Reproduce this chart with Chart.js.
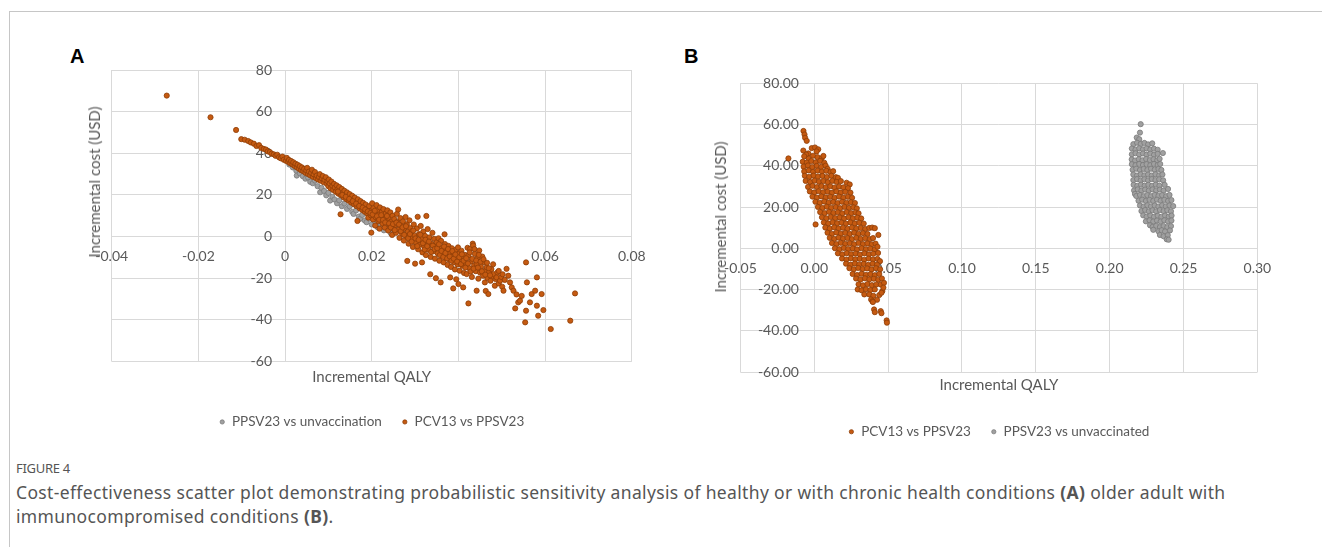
<!DOCTYPE html>
<html>
<head>
<meta charset="utf-8">
<title>Figure 4 - cost-effectiveness planes</title>
<script src="https://cdn.jsdelivr.net/npm/chart.js@4.4.1/dist/chart.umd.min.js"></script>
<style>
  html, body { margin: 0; padding: 0; background: #fff; }
  body { position: relative; width: 1322px; height: 547px; overflow: hidden; font-family: Lato, sans-serif; }
  #frame { position: absolute; left: 9px; top: 11px; width: 1320px; height: 540px; border-top: 1px solid #c6c6c6; border-left: 1px solid #c6c6c6; }
  canvas { position: absolute; }
  #chartA { left: 55px; top: 40px; }
  #chartB { left: 680px; top: 60px; }
  .panel { position: absolute; font: bold 20px "Liberation Sans", Arial, sans-serif; line-height: 20px; color: #000; }
  .ytitle { position: absolute; font-size: 15px; color: #595959; white-space: nowrap;
            transform: translate(-50%, -50%) rotate(-90deg); }
  #figno { position: absolute; left: 16px; top: 459px; font: 13px "Noto Sans", sans-serif; color: #555; letter-spacing: -0.3px; }
  #caption { position: absolute; left: 16px; top: 480px; font: 17.5px/24px "Noto Sans", sans-serif; color: #555; letter-spacing: 0.35px; white-space: nowrap; }
</style>
</head>
<body>
<div id="frame"></div>
<div class="panel" style="left:70px;top:46px">A</div>
<div class="panel" style="left:684px;top:46px">B</div>
<canvas id="chartA" width="630" height="410"></canvas>
<canvas id="chartB" width="610" height="400"></canvas>
<div class="ytitle" style="left:94px;top:182px">Incremental cost (USD)</div>
<div class="ytitle" style="left:720px;top:217px">Incremental cost (USD)</div>
<div id="figno">FIGURE 4</div>
<div id="caption">Cost-effectiveness scatter plot demonstrating probabilistic sensitivity analysis of healthy or with chronic health conditions <b>(A)</b> older adult with<br>immunocompromised conditions <b>(B)</b>.</div>

<script>
// ---------- Panel A: healthy / chronic conditions ----------
const aTickX = [-0.04, -0.02, 0, 0.02, 0.04, 0.06, 0.08];
const aTickXLabels = ["-0.04", "-0.02", "0", "0.02", "0.04", "0.06", "0.08"];
const aTickY = [-60, -40, -20, 0, 20, 40, 60, 80];
const aTickYLabels = ["-60", "-40", "-20", "0", "20", "40", "60", "80"];

// PPSV23 vs unvaccination (mostly hidden under the orange cloud)
const aPpsvUnvacc = [
  [0.0010,34.6],[0.0018,33.2],[0.0026,31.6],[0.0027,29.3],[0.0034,30.4],[0.0041,29.0],[0.0047,27.8],[0.0053,28.4],
  [0.0058,26.3],[0.0064,25.6],[0.0069,26.9],[0.0075,24.2],[0.0081,21.3],[0.0084,23.4],[0.0090,21.9],[0.0095,19.8],
  [0.0100,21.0],[0.0104,17.3],[0.0109,19.1],[0.0114,17.8],[0.0120,16.0],[0.0125,17.4],[0.0131,14.6],[0.0137,15.9],
  [0.0143,13.3],[0.0149,14.5],[0.0155,11.9],[0.0158,10.9],[0.0164,12.6],[0.0170,9.6],[0.0173,8.5],[0.0178,10.4],
  [0.0184,7.7],[0.0188,6.9],[0.0194,8.6],[0.0200,5.8],[0.0207,7.2],[0.0214,4.4],[0.0221,5.6],[0.0228,3.0],
  [0.0236,4.1],[0.0244,1.6],[0.0252,3.6],[0.0261,4.0],[0.0270,2.8],[0.0280,1.5],[0.0290,0.3],[0.0300,-1.0],
  [0.0312,-2.0],[0.0325,-3.0],[0.0338,-4.2],[0.0352,-5.3],[0.0366,-6.5],[0.0380,-7.6]
];

// PCV13 vs PPSV23
const aPcvPpsv = [
  [-0.0273,67.7],[-0.0172,57.3],[-0.0113,51.2],[-0.0101,46.8],[-0.0093,46.5],[-0.0085,45.9],[-0.0079,45.2],[-0.0072,44.6],
  [-0.0066,43.5],[-0.0060,43.9],[-0.0055,42.6],[-0.0049,42.1],[-0.0044,41.8],[-0.0040,40.9],[-0.0035,40.6],[-0.0031,39.8],
  [-0.0026,39.5],[-0.0022,38.8],[-0.0018,39.3],[-0.0014,38.1],[-0.0010,37.6],[-0.0006,38.4],[-0.0003,36.9],
  [0.0002,36.4],[0.0004,37.8],[0.0007,35.9],[0.0009,36.8],[0.0012,35.2],[0.0014,36.3],[0.0017,34.6],[0.0019,35.7],
  [0.0022,33.9],[0.0024,35.0],[0.0027,33.3],[0.0029,34.5],[0.0032,32.6],[0.0034,33.8],[0.0037,31.9],[0.0039,33.2],
  [0.0042,31.4],[0.0044,32.5],[0.0047,30.6],[0.0049,31.8],[0.0051,33.0],
  [0.0053,30.0],[0.0055,31.2],[0.0058,29.4],[0.0060,30.6],[0.0062,32.1],[0.0064,28.7],[0.0066,29.9],[0.0069,31.0],
  [0.0071,28.1],[0.0073,29.3],[0.0076,27.4],[0.0078,28.6],[0.0080,30.0],[0.0082,26.8],[0.0085,27.9],[0.0087,29.1],
  [0.0089,26.1],[0.0091,27.3],[0.0094,28.5],[0.0096,25.4],[0.0098,26.6],[0.0100,24.2],[0.0101,27.4],
  [0.0103,25.5],[0.0105,23.2],[0.0107,26.4],[0.0109,24.3],[0.0111,22.4],[0.0113,25.3],[0.0115,23.5],[0.0117,21.5],
  [0.0119,24.6],[0.0121,22.7],[0.0123,20.6],[0.0125,23.8],[0.0127,21.8],[0.0128,10.7],[0.0129,19.9],[0.0131,22.9],
  [0.0133,20.9],[0.0135,18.9],[0.0137,22.0],[0.0139,20.1],[0.0141,18.0],[0.0143,21.2],[0.0145,19.2],[0.0147,17.2],[0.0149,20.4],
  [0.0151,18.3],[0.0153,16.3],[0.0155,19.6],[0.0157,17.5],[0.0159,15.5],[0.0161,18.7],[0.0163,16.6],[0.0165,14.6],
  [0.0167,7.5],[0.0168,17.9],[0.0170,15.7],[0.0172,13.6],[0.0174,17.0],[0.0176,14.9],[0.0178,12.8],[0.0180,16.2],
  [0.0182,14.0],[0.0184,11.9],[0.0186,15.4],[0.0188,13.2],[0.0190,11.0],[0.0192,9.1],[0.0194,14.6],[0.0196,12.3],
  [0.0198,10.2],[0.0199,1.9],
  [0.0201,16.0],[0.0203,8.2],[0.0204,13.6],[0.0206,11.4],[0.0208,5.3],[0.0209,9.3],[0.0211,15.1],[0.0213,12.6],
  [0.0215,7.4],[0.0216,10.5],[0.0218,3.8],[0.0219,14.0],[0.0221,8.6],[0.0223,11.8],[0.0225,6.2],[0.0227,13.2],
  [0.0228,9.7],[0.0230,4.3],[0.0232,11.0],[0.0234,7.5],[0.0236,12.6],[0.0238,2.9],[0.0239,9.0],[0.0241,5.4],
  [0.0243,11.6],[0.0245,7.2],[0.0247,0.8],[0.0248,10.0],[0.0250,3.6],
  [0.0252,8.4],[0.0254,5.6],[0.0256,1.8],[0.0258,10.9],[0.0259,7.0],[0.0261,13.0],[0.0262,3.4],[0.0264,-0.6],
  [0.0266,8.9],[0.0268,5.2],[0.0270,1.4],[0.0272,7.3],[0.0274,-1.9],[0.0276,3.8],[0.0278,9.4],[0.0280,0.2],
  [0.0281,5.9],[0.0282,-11.7],[0.0283,2.3],[0.0285,-3.4],[0.0287,7.8],[0.0289,4.1],[0.0291,-0.9],[0.0293,2.6],
  [0.0295,-5.0],[0.0297,5.8],[0.0299,0.4],[0.0300,-13.0],
  [0.0302,-2.8],[0.0304,3.9],[0.0306,9.5],[0.0307,-6.1],[0.0309,1.2],[0.0311,-3.9],[0.0313,5.1],[0.0315,-1.2],
  [0.0316,-12.4],[0.0317,-7.6],[0.0319,2.4],[0.0321,-4.8],[0.0323,0.3],[0.0325,-8.9],[0.0326,9.9],[0.0327,-2.2],
  [0.0329,3.6],[0.0331,-6.3],[0.0333,-0.4],[0.0335,-18.1],[0.0336,-9.8],[0.0338,-3.5],[0.0340,1.8],[0.0342,-7.1],
  [0.0344,-1.1],[0.0346,-10.6],[0.0348,-20.0],[0.0349,-4.4],
  [0.0350,-2.7],[0.0352,-8.0],[0.0354,-0.8],[0.0356,-11.6],[0.0358,-5.2],[0.0359,-22.0],[0.0360,-2.1],[0.0362,-9.1],
  [0.0364,-6.4],[0.0366,-12.4],[0.0368,1.1],[0.0369,-3.6],[0.0371,-10.2],[0.0373,-7.3],[0.0375,-13.6],[0.0377,-4.5],
  [0.0379,-11.0],[0.0381,-8.0],[0.0381,-19.6],[0.0383,-14.6],[0.0385,-5.6],[0.0387,-9.2],[0.0388,-7.5],[0.0388,-24.9],
  [0.0390,-12.3],[0.0392,-15.8],[0.0394,-6.4],[0.0395,-20.5],[0.0396,-10.1],[0.0398,-13.4],[0.0400,-22.8],
  [0.0401,-8.2],[0.0403,-16.4],[0.0405,-11.5],[0.0407,-6.8],[0.0409,-14.0],[0.0411,-10.0],[0.0411,-24.4],[0.0413,-17.5],
  [0.0415,-8.8],[0.0417,-12.7],[0.0419,-18.0],[0.0421,-5.4],[0.0423,-9.1],[0.0423,-32.1],[0.0425,-15.2],[0.0427,-5.9],
  [0.0429,-11.9],[0.0431,-19.4],[0.0433,-3.4],[0.0434,-4.3],[0.0436,-13.9],[0.0438,-8.3],[0.0440,-16.6],[0.0442,-13.1],
  [0.0442,-26.0],[0.0444,-10.4],[0.0446,-20.2],[0.0448,-6.7],[0.0450,-17.3],
  [0.0452,-14.5],[0.0455,-9.6],[0.0457,-18.8],[0.0459,-12.3],[0.0461,-22.0],[0.0463,-16.1],[0.0463,-26.1],[0.0465,-14.8],
  [0.0467,-19.9],[0.0469,-27.6],[0.0471,-17.0],[0.0474,-21.2],[0.0476,-15.6],[0.0478,-19.1],[0.0480,-13.3],[0.0481,-18.0],
  [0.0484,-23.6],[0.0486,-20.4],[0.0488,-19.6],[0.0490,-17.2],[0.0493,-22.5],[0.0493,-16.5],[0.0496,-21.2],[0.0499,-19.4],
  [0.0501,-24.1],[0.0502,-18.1],[0.0504,-26.0],[0.0507,-20.8],[0.0511,-15.5],[0.0515,-18.8],[0.0519,-22.0],[0.0523,-24.4],
  [0.0527,-26.0],
  [0.0531,-34.5],[0.0534,-27.8],[0.0538,-31.6],[0.0542,-30.8],[0.0546,-28.5],[0.0554,-41.2],[0.0556,-35.6],[0.0558,-22.0],
  [0.0556,-12.4],[0.0565,-31.6],[0.0569,-27.6],[0.0577,-26.0],[0.0581,-19.6],[0.0581,-33.2],[0.0584,-38.0],[0.0592,-27.6],
  [0.0596,-35.3],[0.0613,-44.4],[0.0658,-40.4],[0.0669,-27.3],
  // middle of the band, where the cloud is densest
  [0.0122,21.6],[0.0132,20.0],[0.0140,19.1],[0.0148,18.1],[0.0156,17.0],[0.0164,15.8],[0.0171,14.7],[0.0179,13.9],
  [0.0185,13.0],[0.0191,12.1],[0.0197,11.3],
  [0.0202,10.6],[0.0207,12.4],[0.0212,9.8],[0.0217,8.1],[0.0222,10.3],[0.0226,8.0],[0.0231,6.8],[0.0235,9.9],
  [0.0240,6.3],[0.0244,4.4],[0.0249,6.0],
  [0.0253,3.1],[0.0257,6.7],[0.0263,5.8],[0.0267,2.6],[0.0271,4.4],[0.0275,0.8],[0.0279,5.0],[0.0284,-0.8],
  [0.0288,1.2],[0.0292,-2.4],[0.0296,2.9],
  [0.0301,-0.9],[0.0305,-4.6],[0.0308,-1.6],[0.0312,0.9],[0.0318,-3.2],[0.0322,-6.2],[0.0324,-1.5],[0.0328,-4.6],
  [0.0332,-2.4],[0.0337,-7.4],[0.0341,-4.4],[0.0345,-6.0],
  [0.0351,-5.6],[0.0355,-3.7],[0.0357,-8.9],[0.0361,-6.9],[0.0365,-9.8],[0.0367,-4.8],[0.0370,-7.9],[0.0374,-10.5],
  [0.0376,-6.0],[0.0380,-9.6],[0.0384,-11.6],[0.0386,-7.0],
  [0.0389,-10.6],[0.0393,-8.6],[0.0397,-12.0],[0.0399,-5.2],[0.0402,-9.9],[0.0406,-13.2],[0.0408,-8.5],[0.0412,-11.6],
  [0.0416,-14.9],[0.0418,-10.4],[0.0422,-12.9],[0.0426,-7.6],
  [0.0428,-16.8],[0.0432,-10.7],[0.0435,-15.4],[0.0437,-6.0],[0.0441,-11.5],[0.0445,-14.9],[0.0447,-8.8],[0.0451,-12.1],
  [0.0454,-16.7],[0.0458,-10.9],[0.0462,-18.3],[0.0466,-12.6],[0.0470,-15.2],[0.0473,-18.6]
];

// ---------- Panel B: immunocompromised ----------
const bTickX = [-0.05, 0, 0.05, 0.1, 0.15, 0.2, 0.25, 0.3];
const bTickXLabels = ["-0.05", "0.00", "0.05", "0.10", "0.15", "0.20", "0.25", "0.30"];
const bTickY = [-60, -40, -20, 0, 20, 40, 60, 80];
const bTickYLabels = ["-60.00", "-40.00", "-20.00", "0.00", "20.00", "40.00", "60.00", "80.00"];

// PCV13 vs PPSV23
const bPcvPpsv = [
  [-0.0073,56.9],[-0.0066,55.2],[-0.0062,53.6],[-0.0051,52.1],
  [-0.0074,47.4],[-0.0040,46.0],[-0.0017,48.6],[0.0005,48.9],[0.0027,48.0],[0.0016,47.0],[-0.0055,45.5],
  [-0.0175,43.6],[-0.0068,44.6],[-0.0038,43.5],[-0.0008,44.9],[0.0022,44.2],[0.0050,43.7],[0.0062,44.8],
  [-0.0078,42.0],[-0.0050,41.6],[-0.0020,42.3],[0.0010,41.7],[0.0040,42.4],[0.0068,41.5],
  [-0.0072,39.6],[-0.0043,40.2],[-0.0013,39.4],[0.0017,40.0],[0.0047,39.5],[0.0077,40.1],[0.0090,38.6],
  [-0.0068,37.3],[-0.0038,37.8],[-0.0008,37.1],[0.0022,37.7],[0.0052,37.2],[0.0082,37.6],[0.0110,37.0],[0.0128,37.4],
  [-0.0064,35.2],[-0.0034,34.7],[-0.0004,35.3],[0.0026,34.8],[0.0056,35.1],[0.0086,34.6],[0.0116,35.2],[0.0146,34.5],[0.0160,34.2],
  [-0.0058,32.7],[-0.0028,32.2],[0.0002,32.8],[0.0032,32.3],[0.0062,32.6],[0.0092,32.1],[0.0122,32.7],[0.0152,32.2],
  [0.0180,32.6],[0.0219,31.8],[0.0240,31.0],
  [-0.0042,29.8],[-0.0012,30.3],[0.0018,29.7],[0.0048,30.2],[0.0078,29.6],[0.0108,30.1],[0.0138,29.5],[0.0168,30.0],
  [0.0198,29.6],[0.0228,29.2],
  [-0.0030,27.6],[0.0000,27.1],[0.0030,27.7],[0.0060,27.2],[0.0090,27.5],[0.0120,27.0],[0.0150,27.6],[0.0180,27.1],
  [0.0210,27.4],[0.0245,27.0],
  [-0.0012,25.1],[0.0018,24.6],[0.0048,25.2],[0.0078,24.7],[0.0108,25.0],[0.0138,24.5],[0.0168,25.1],[0.0198,24.6],
  [0.0228,25.0],[0.0256,24.5],
  [0.0008,22.6],[0.0038,22.1],[0.0068,22.7],[0.0098,22.2],[0.0128,22.5],[0.0158,22.0],[0.0188,22.6],[0.0218,22.1],
  [0.0248,22.4],[0.0275,22.0],
  [0.0025,20.1],[0.0055,19.6],[0.0085,20.2],[0.0115,19.7],[0.0145,20.0],[0.0175,19.5],[0.0205,20.1],[0.0235,19.6],
  [0.0265,19.9],[0.0288,19.4],
  [0.0040,17.6],[0.0070,17.1],[0.0100,17.7],[0.0130,17.2],[0.0160,17.5],[0.0190,17.0],[0.0220,17.6],[0.0250,17.1],
  [0.0280,17.4],[0.0300,17.0],
  [0.0052,15.1],[0.0082,14.6],[0.0112,15.2],[0.0142,14.7],[0.0172,15.0],[0.0202,14.5],[0.0232,15.1],[0.0262,14.6],
  [0.0292,14.9],[0.0318,14.5],
  [0.0009,11.6],[0.0065,12.6],[0.0095,12.1],[0.0125,12.7],[0.0155,12.2],[0.0185,12.5],[0.0215,12.0],[0.0245,12.6],
  [0.0275,12.1],[0.0305,12.4],[0.0335,12.0],
  [0.0075,10.1],[0.0105,9.6],[0.0135,10.2],[0.0165,9.7],[0.0195,10.0],[0.0225,9.5],[0.0255,10.1],[0.0285,9.6],
  [0.0315,9.9],[0.0345,9.4],[0.0372,9.9],[0.0392,10.1],[0.0410,9.8],
  [0.0090,7.6],[0.0120,7.1],[0.0150,7.7],[0.0180,7.2],[0.0210,7.5],[0.0240,7.0],[0.0270,7.6],[0.0300,7.1],
  [0.0330,7.4],[0.0360,7.0],[0.0434,6.5],
  [0.0105,5.1],[0.0135,4.6],[0.0165,5.2],[0.0195,4.7],[0.0225,5.0],[0.0255,4.5],[0.0285,5.1],[0.0315,4.6],
  [0.0345,4.9],[0.0375,4.5],[0.0398,5.0],
  [0.0120,2.6],[0.0150,2.1],[0.0180,2.7],[0.0210,2.2],[0.0240,2.5],[0.0270,2.0],[0.0300,2.6],[0.0330,2.1],
  [0.0360,2.4],[0.0390,2.0],[0.0415,2.3],
  [0.0140,0.1],[0.0170,-0.4],[0.0200,0.2],[0.0230,-0.3],[0.0260,0.0],[0.0290,-0.5],[0.0320,0.1],[0.0350,-0.4],
  [0.0380,-0.1],[0.0410,-0.5],[0.0428,0.8],
  [0.0160,-2.4],[0.0190,-2.9],[0.0220,-2.3],[0.0250,-2.8],[0.0280,-2.5],[0.0310,-3.0],[0.0340,-2.4],[0.0370,-2.9],
  [0.0400,-2.6],[0.0432,-2.2],
  [0.0188,-4.9],[0.0218,-5.4],[0.0248,-4.8],[0.0278,-5.3],[0.0308,-5.0],[0.0338,-5.5],[0.0368,-4.9],[0.0398,-5.4],
  [0.0428,-5.1],[0.0445,-6.2],
  [0.0215,-7.4],[0.0245,-7.9],[0.0275,-7.3],[0.0305,-7.8],[0.0335,-7.5],[0.0365,-8.0],[0.0395,-7.4],[0.0425,-7.9],
  [0.0238,-9.6],[0.0268,-10.1],[0.0298,-9.5],[0.0328,-10.0],[0.0358,-9.7],[0.0388,-10.2],[0.0418,-9.6],[0.0446,-10.1],
  [0.0260,-12.4],[0.0290,-12.9],[0.0320,-12.3],[0.0350,-12.8],[0.0380,-12.5],[0.0410,-13.0],[0.0440,-12.4],
  [0.0283,-14.6],[0.0313,-15.1],[0.0343,-14.5],[0.0373,-15.0],[0.0403,-14.7],[0.0433,-15.2],[0.0458,-14.6],
  [0.0300,-17.4],[0.0330,-17.9],[0.0360,-17.3],[0.0390,-17.8],[0.0420,-17.5],[0.0450,-17.5],[0.0472,-16.7],
  [0.0294,-19.9],[0.0320,-20.3],[0.0350,-19.8],[0.0380,-20.2],[0.0410,-19.9],[0.0461,-20.7],[0.0468,-19.0],
  [0.0339,-22.3],[0.0372,-22.3],[0.0400,-23.0],[0.0440,-22.6],[0.0455,-21.5],
  [0.0385,-24.8],[0.0394,-25.6],[0.0425,-24.9],
  [0.0397,-26.0],[0.0405,-29.6],[0.0410,-30.9],[0.0450,-30.4],[0.0455,-31.4],
  [0.0490,-34.9],[0.0492,-36.0]
];

// PPSV23 vs unvaccinated
const bPpsvUnvacc = [
  [0.2210,60.2],[0.2205,56.1],[0.2183,53.7],[0.2200,52.9],
  [0.2160,50.5],[0.2185,51.2],[0.2210,50.6],[0.2235,51.1],[0.2260,50.4],[0.2288,50.9],
  [0.2150,48.4],[0.2175,47.9],[0.2200,48.5],[0.2225,48.0],[0.2250,48.4],[0.2275,47.9],[0.2300,48.3],[0.2325,47.8],
  [0.2150,45.6],[0.2175,46.1],[0.2200,45.5],[0.2225,46.0],[0.2250,45.4],[0.2275,45.9],[0.2300,45.3],[0.2325,45.8],[0.2360,46.2],
  [0.2149,43.1],[0.2172,42.6],[0.2197,43.2],[0.2222,42.7],[0.2247,43.3],[0.2272,42.8],[0.2297,43.2],[0.2322,42.7],[0.2338,43.4],
  [0.2150,40.8],[0.2175,40.3],[0.2200,40.9],[0.2225,40.4],[0.2250,40.8],[0.2275,40.3],[0.2300,40.9],[0.2325,40.4],[0.2342,40.9],
  [0.2155,38.1],[0.2180,38.6],[0.2205,38.0],[0.2230,38.5],[0.2255,38.0],[0.2280,38.6],[0.2305,38.1],[0.2330,38.5],[0.2350,38.0],
  [0.2160,35.8],[0.2185,35.3],[0.2210,35.9],[0.2235,35.4],[0.2260,35.8],[0.2285,35.3],[0.2310,35.9],[0.2335,35.4],[0.2357,35.8],
  [0.2160,33.1],[0.2185,33.6],[0.2210,33.0],[0.2235,33.5],[0.2260,33.0],[0.2285,33.6],[0.2310,33.1],[0.2335,33.5],[0.2362,33.0],
  [0.2162,30.8],[0.2187,30.3],[0.2212,30.9],[0.2237,30.4],[0.2262,30.8],[0.2287,30.3],[0.2312,30.9],[0.2337,30.4],[0.2372,30.8],
  [0.2165,28.1],[0.2190,28.6],[0.2215,28.0],[0.2240,28.5],[0.2265,28.0],[0.2290,28.6],[0.2315,28.1],[0.2340,28.5],[0.2365,28.0],[0.2395,28.8],
  [0.2171,26.4],[0.2180,25.4],[0.2205,25.9],[0.2230,25.3],[0.2255,25.8],[0.2280,25.3],[0.2305,25.9],[0.2330,25.4],[0.2355,25.8],[0.2382,25.3],[0.2405,25.9],
  [0.2195,23.1],[0.2220,23.6],[0.2245,23.0],[0.2270,23.5],[0.2295,23.0],[0.2320,23.6],[0.2345,23.1],[0.2370,23.5],[0.2395,23.0],[0.2418,23.4],
  [0.2205,20.8],[0.2230,20.3],[0.2255,20.9],[0.2280,20.4],[0.2305,20.8],[0.2330,20.3],[0.2355,20.9],[0.2380,20.4],[0.2405,20.8],[0.2430,20.5],
  [0.2215,18.1],[0.2240,18.6],[0.2265,18.0],[0.2290,18.5],[0.2315,18.0],[0.2340,18.6],[0.2365,18.1],[0.2390,18.5],[0.2415,18.0],
  [0.2227,16.0],[0.2250,15.4],[0.2275,15.9],[0.2300,15.3],[0.2325,15.8],[0.2350,15.3],[0.2375,15.9],[0.2400,15.4],[0.2419,15.9],
  [0.2245,13.1],[0.2270,13.6],[0.2295,13.0],[0.2320,13.5],[0.2345,13.0],[0.2370,13.6],[0.2395,13.1],[0.2418,13.5],
  [0.2273,11.2],[0.2290,10.4],[0.2315,10.9],[0.2340,10.3],[0.2365,10.8],[0.2390,10.3],[0.2415,10.8],
  [0.2295,9.0],[0.2330,8.3],[0.2352,8.8],[0.2375,8.2],[0.2408,8.7],
  [0.2340,6.5],[0.2365,5.9],[0.2393,6.4],
  [0.2386,4.4],[0.2399,4.2]
];

// ---------- styling ----------
const ORANGE = "#C55A11", ORANGE_EDGE = "#8E3D08";
const GREY = "#A0A0A0", GREY_EDGE = "#7A7A7A";
const GRID = "#d9d9d9";
const TEXT = "#595959";

Chart.defaults.font.family = "Lato, sans-serif";
Chart.defaults.color = TEXT;

function toXY(pts) {
  return pts.map(([x, y]) => ({ x, y }));
}

function pointSet(label, pts, fill, edge, radius, order) {
  return {
    label,
    data: toXY(pts),
    backgroundColor: fill,
    borderColor: edge,
    borderWidth: 0.8,
    pointRadius: radius,
    pointHoverRadius: radius,
    order
  };
}

function makePlane(canvasId, o) {
  const ctx = document.getElementById(canvasId).getContext("2d");
  return new Chart(ctx, {
    type: "scatter",
    data: { datasets: o.datasets },
    options: {
      responsive: false,
      animation: false,
      events: [],
      layout: { padding: o.padding, autoPadding: false },
      plugins: {
        tooltip: { enabled: false },
        legend: {
          position: "bottom",
          labels: {
            usePointStyle: true,
            pointStyle: "circle",
            boxWidth: 6,
            boxHeight: 3,
            padding: 20,
            color: TEXT,
            font: { size: 13.5 },
            sort: (a, b) => a.datasetIndex - b.datasetIndex
          }
        }
      },
      scales: {
        x: {
          type: "linear",
          position: { y: 0 },
          min: o.xTicks[0],
          max: o.xTicks[o.xTicks.length - 1],
          afterBuildTicks: (s) => { s.ticks = o.xTicks.map(v => ({ value: v })); },
          ticks: {
            callback: (v, i) => o.xLabels[i],
            padding: 12,
            autoSkip: false,
            maxRotation: 0,
            font: { size: 14 },
            color: TEXT
          },
          grid: { color: GRID, drawTicks: false },
          border: { display: false }
        },
        y: {
          type: "linear",
          position: { x: o.yLabelAt },
          min: o.yTicks[0],
          max: o.yTicks[o.yTicks.length - 1],
          afterBuildTicks: (s) => { s.ticks = o.yTicks.map(v => ({ value: v })); },
          ticks: {
            callback: (v, i) => o.yLabels[i],
            autoSkip: false,
            font: { size: 14 },
            color: TEXT
          },
          grid: { color: GRID, drawTicks: false },
          border: { display: false }
        },
        // empty axis that only carries the x title under the plot
        xt: {
          type: "linear",
          position: "bottom",
          ticks: { display: false },
          grid: { display: false, drawTicks: false },
          border: { display: false },
          title: {
            display: true,
            text: "Incremental QALY",
            color: TEXT,
            font: { size: 15 },
            padding: o.titlePad
          }
        }
      }
    }
  });
}

makePlane("chartA", {
  datasets: [
    pointSet("PPSV23 vs unvaccination", aPpsvUnvacc, GREY, GREY_EDGE, 2.6, 1),
    pointSet("PCV13 vs PPSV23", aPcvPpsv, ORANGE, ORANGE_EDGE, 2.6, 0)
  ],
  xTicks: aTickX, xLabels: aTickXLabels,
  yTicks: aTickY, yLabels: aTickYLabels,
  yLabelAt: -0.003,
  padding: { top: 30, left: 56.7, right: 53.2, bottom: 11.3 },
  titlePad: { top: 6.5, bottom: 9.2 }
});

makePlane("chartB", {
  datasets: [
    pointSet("PCV13 vs PPSV23", bPcvPpsv, ORANGE, ORANGE_EDGE, 2.6, 0),
    pointSet("PPSV23 vs unvaccinated", bPpsvUnvacc, GREY, GREY_EDGE, 2.6, 1)
  ],
  xTicks: bTickX, xLabels: bTickXLabels,
  yTicks: bTickY, yLabels: bTickYLabels,
  yLabelAt: -0.0104,
  padding: { top: 23.3, left: 60.4, right: 32.6, bottom: 11.5 },
  titlePad: { top: 4.3, bottom: 10.5 }
});
</script>
</body>
</html>
